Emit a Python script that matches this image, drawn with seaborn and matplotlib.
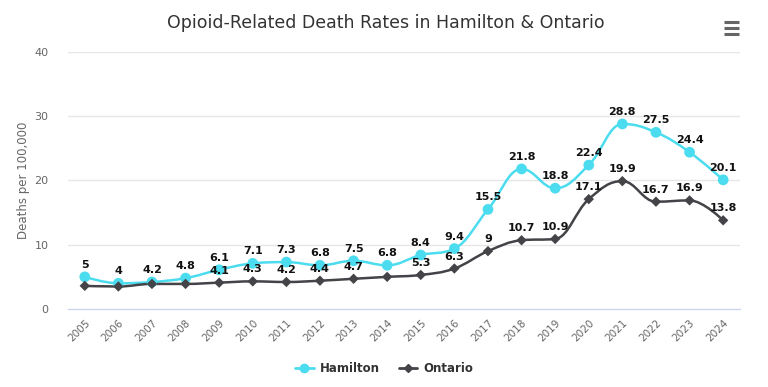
import numpy as np
import pandas as pd
import seaborn as sns
import matplotlib.pyplot as plt
from matplotlib.path import Path
from matplotlib.patches import PathPatch
from matplotlib.lines import Line2D

# data
years = [str(y) for y in range(2005, 2025)]
hamilton = [5, 4, 4.2, 4.8, 6.1, 7.1, 7.3, 6.8, 7.5, 6.8, 8.4, 9.4, 15.5, 21.8, 18.8, 22.4, 28.8, 27.5, 24.4, 20.1]
ontario = [3.6, 3.5, 3.9, 3.9, 4.1, 4.3, 4.2, 4.4, 4.7, 5.0, 5.3, 6.3, 9, 10.7, 10.9, 17.1, 19.9, 16.7, 16.9, 13.8]
ontario_unlabelled = ["2005", "2006", "2007", "2008", "2014"]  # labels hidden in the original (overlap)

HAM_COLOR = "#4cdcef"
ONT_COLOR = "#434348"


def spline_path(xs, ys, smoothing=1.5):
    """Highcharts-style spline as a cubic bezier path in data coords."""
    n = len(xs)
    denom = smoothing + 1
    left = [(xs[i], ys[i]) for i in range(n)]
    right = [(xs[i], ys[i]) for i in range(n)]
    for i in range(1, n - 1):
        x, y = xs[i], ys[i]
        lx, ly = xs[i - 1], ys[i - 1]
        nx, ny = xs[i + 1], ys[i + 1]
        lcx = (smoothing * x + lx) / denom
        lcy = (smoothing * y + ly) / denom
        rcx = (smoothing * x + nx) / denom
        rcy = (smoothing * y + ny) / denom
        if rcx != lcx:
            corr = ((rcy - lcy) * (rcx - x)) / (rcx - lcx) + y - rcy
            lcy += corr
            rcy += corr
        if lcy > ly and lcy > y:
            lcy = max(ly, y)
            rcy = 2 * y - lcy
        elif lcy < ly and lcy < y:
            lcy = min(ly, y)
            rcy = 2 * y - lcy
        if rcy > ny and rcy > y:
            rcy = max(ny, y)
            lcy = 2 * y - rcy
        elif rcy < ny and rcy < y:
            rcy = min(ny, y)
            lcy = 2 * y - rcy
        left[i] = (lcx, lcy)
        right[i] = (rcx, rcy)
    verts = [(xs[0], ys[0])]
    codes = [Path.MOVETO]
    for i in range(1, n):
        verts += [right[i - 1], left[i], (xs[i], ys[i])]
        codes += [Path.CURVE4] * 3
    return Path(verts, codes)


df = pd.DataFrame({"Year": years, "Hamilton": hamilton, "Ontario": ontario})
df["x"] = np.arange(len(years))

sns.set_theme(style="white")
plt.rcParams["font.family"] = ["DejaVu Sans"]

fig = plt.figure(figsize=(7.68, 3.87), dpi=100)
ax = fig.add_axes([0.0885, 0.2016, 0.875, 0.664])

for col, color in [("Hamilton", HAM_COLOR), ("Ontario", ONT_COLOR)]:
    ax.add_patch(PathPatch(spline_path(df["x"].tolist(), df[col].tolist()),
                           facecolor="none", edgecolor=color, lw=1.8, zorder=2))

sns.scatterplot(data=df, x="x", y="Hamilton", ax=ax, color=HAM_COLOR, marker="o",
                s=60, edgecolor="none", zorder=3, legend=False)
sns.scatterplot(data=df, x="x", y="Ontario", ax=ax, color=ONT_COLOR, marker="D",
                s=28, edgecolor="none", zorder=3, legend=False)

# data labels
for _, r in df.iterrows():
    ax.annotate(f"{r['Hamilton']:g}", (r["x"], r["Hamilton"]), xytext=(0, 5),
                textcoords="offset points", ha="center", va="bottom",
                fontsize=8, fontweight="bold", color="#111111", zorder=4)
    if r["Year"] not in ontario_unlabelled:
        ax.annotate(f"{r['Ontario']:g}", (r["x"], r["Ontario"]), xytext=(0, 5),
                    textcoords="offset points", ha="center", va="bottom",
                    fontsize=8, fontweight="bold", color="#111111", zorder=4)

ax.set_xlim(-0.5, len(years) - 0.5)
ax.set_ylim(0, 40)
ax.set_yticks([0, 10, 20, 30, 40])
ax.set_xticks(df["x"])
ax.set_xticklabels(years, rotation=45, ha="right", rotation_mode="anchor")
ax.set_xticks(np.arange(-0.5, len(years)), minor=True)
ax.tick_params(axis="x", which="major", length=0, pad=6, labelsize=7.5, colors="#666666")
ax.tick_params(axis="x", which="minor", length=9, width=0.8, color="#ccd6eb", direction="out")
ax.tick_params(axis="y", length=0, pad=14, labelsize=8, colors="#666666")
for t in ax.get_xticklabels():
    t.set_color("#666666")
ax.grid(False)
for y in [10, 20, 30, 40]:
    ax.axhline(y, color="#e6e6e6", lw=1, zorder=0)
for s in ["top", "right", "left"]:
    ax.spines[s].set_visible(False)
ax.spines["bottom"].set_color("#ccd6eb")
ax.spines["bottom"].set_linewidth(1)
ax.set_xlabel("")
ax.set_ylabel("Deaths per 100,000", fontsize=8.5, color="#666666", labelpad=3)

fig.text(0.503, 0.94, "Opioid-Related Death Rates in Hamilton & Ontario",
         ha="center", va="center", fontsize=12.5, color="#333333")

# menu icon
for dy in [0.0, 0.0155, 0.031]:
    fig.add_artist(Line2D([0.943, 0.962], [0.912 + dy, 0.912 + dy], color="#666666",
                          lw=2.2, solid_capstyle="butt", transform=fig.transFigure))

handles = [
    Line2D([], [], color=HAM_COLOR, lw=2, marker="o", markersize=6, label="Hamilton"),
    Line2D([], [], color=ONT_COLOR, lw=2, marker="D", markersize=4, label="Ontario"),
]
fig.legend(handles=handles, loc="center", bbox_to_anchor=(0.5, 0.047), ncol=2,
           frameon=False, handlelength=1.6, columnspacing=1.6, handletextpad=0.5,
           prop={"weight": "bold", "size": 8.5}, labelcolor="#333333")

fig.savefig("out.png", dpi=100)
